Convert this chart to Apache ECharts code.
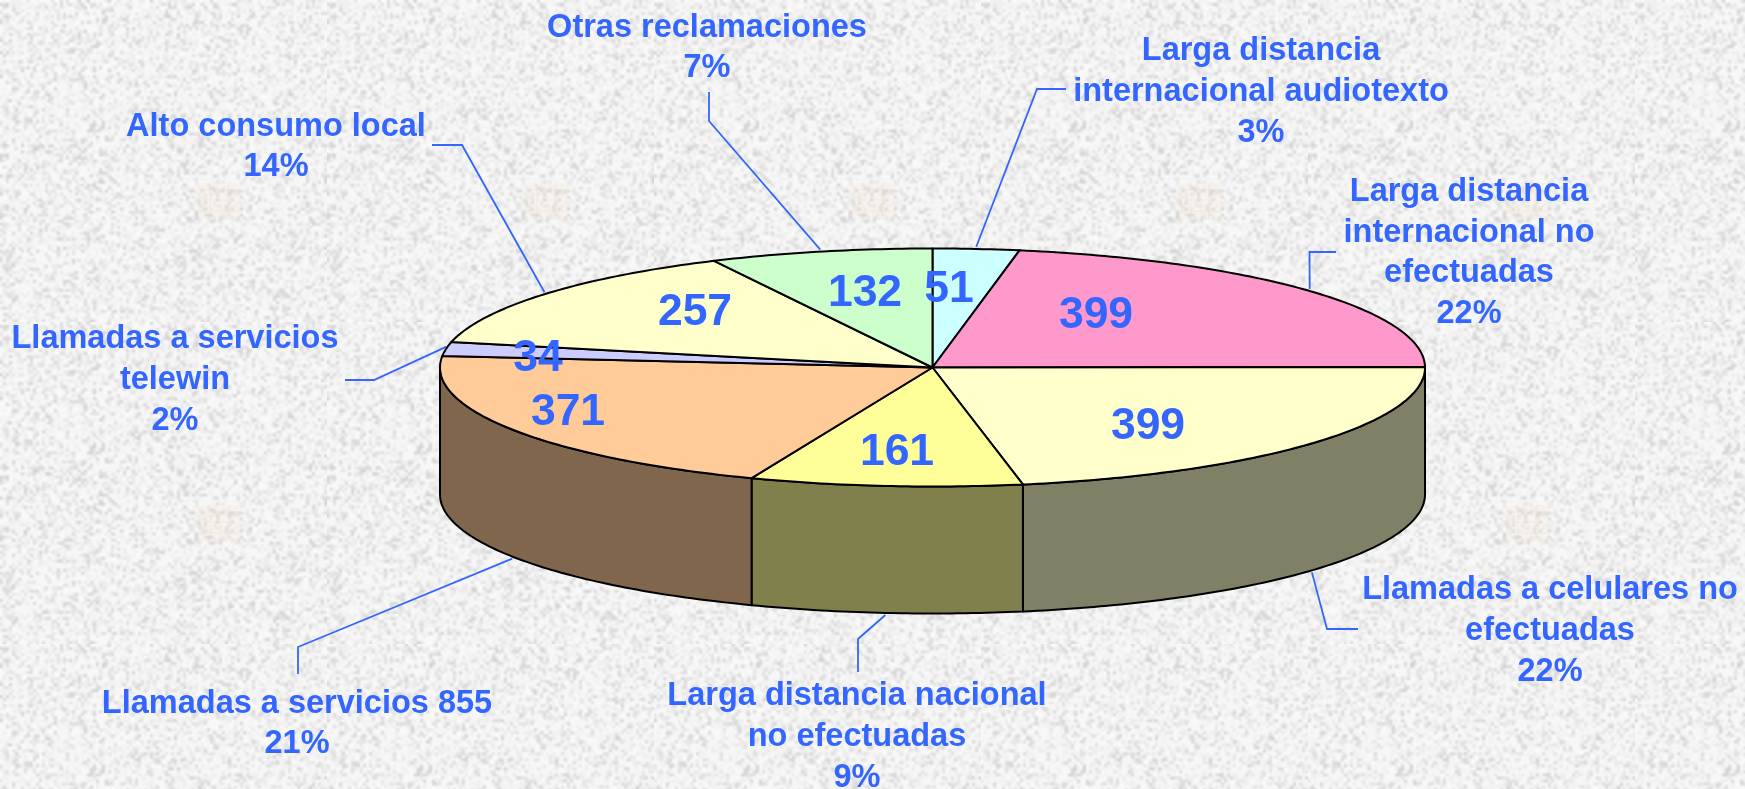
<!DOCTYPE html>
<html><head><meta charset="utf-8">
<style>html,body{margin:0;padding:0;background:#eee}#c{width:1745px;height:789px}</style>
<script src="https://cdn.jsdelivr.net/npm/echarts@6/dist/echarts.min.js"></script>
</head><body><div id="c"></div>
<script>
// ---- data ----
const categories = [
  'Larga distancia\ninternacional audiotexto',
  'Larga distancia\ninternacional no\nefectuadas',
  'Llamadas a celulares no\nefectuadas',
  'Larga distancia nacional\nno efectuadas',
  'Llamadas a servicios 855',
  'Llamadas a servicios\ntelewin',
  'Alto consumo local',
  'Otras reclamaciones'
];
const values = [51, 399, 399, 161, 371, 34, 257, 132];
// ---- styles and layout, kept apart from the data ----
const topColors  = ['#CCFFFF','#FF99CC','#FFFFCC','#FFFF99','#FFCC99','#CCCCFF','#FFFFCC','#CCFFCC'];
const sideColors = ['#666680','#804C66','#808066','#80804C','#80664C','#666680','#808066','#668066'];
const textColor = '#3366FF';
const valueLabelPos = [[949,290],[1096,316],[1148,427],[897,453],[568,413],[538,359],[695,313],[865,294]];
const catLabelPos = [[1261,92],[1469,253],[1550,631],[857,737],[297,724],[175,380],[276,147],[707,48]];
const leaderBends = [
  [[1037,89],[1066,89]],
  [[1309.5,252],[1336,252]],
  [[1327,629],[1358,629]],
  [[858,639],[858,672]],
  [[298,647],[298,674]],
  [[374,380],[345,380]],
  [[462,145],[432,145]],
  [[709,121],[709,92]]
];
const pie = {cx: 932.5, cy: 367.5, rx: 492.5, ry: 119, depth: 127};

const total = values.reduce((a, b) => a + b, 0);
const spans = [];
values.reduce((acc, v) => { spans.push([acc, acc + v]); return acc + v; }, 0);
const ang = v => v / total * Math.PI * 2;
const pt = (a, dy) => [pie.cx + pie.rx * Math.sin(a), pie.cy - pie.ry * Math.cos(a) + (dy || 0)];
function arc(a0, a1, dy) {
  const n = Math.max(2, Math.ceil((a1 - a0) / 0.015)), out = [];
  for (let i = 0; i <= n; i++) out.push(pt(a0 + (a1 - a0) * i / n, dy));
  return out;
}
// ---- paper texture (deterministic, not data) ----
function makeTexture() {
  const W = 327, H = 322, K = 3, lw = Math.round(W / K), lh = Math.round(H / K);
  let seed = 20231;
  const rnd = () => (seed = (seed * 1664525 + 1013904223) >>> 0) / 4294967296;
  const low = document.createElement('canvas'); low.width = lw; low.height = lh;
  const lg = low.getContext('2d'), im = lg.createImageData(lw, lh);
  for (let i = 0; i < im.data.length; i += 4) {
    const r = rnd(), c = Math.round(249 - 30 * r * r * r * r - 8 * r);
    im.data[i] = im.data[i + 1] = im.data[i + 2] = c; im.data[i + 3] = 255;
  }
  lg.putImageData(im, 0, 0);
  const cv = document.createElement('canvas'); cv.width = W; cv.height = H;
  const g = cv.getContext('2d');
  g.imageSmoothingEnabled = true; g.imageSmoothingQuality = 'high';
  for (const dx of [-W, 0, W]) for (const dy of [-H, 0, H]) g.drawImage(low, dx, dy, W, H);
  g.fillStyle = 'rgba(245,232,215,0.22)'; g.fillRect(197, 183, 44, 37);
  g.strokeStyle = 'rgba(235,215,195,0.22)'; g.lineWidth = 1.5;
  [[200,190,238,190],[203,200,235,200],[200,211,238,211],[210,184,210,219],[228,184,228,219]].forEach(l => {
    g.beginPath(); g.moveTo(l[0], l[1]); g.lineTo(l[2], l[3]); g.stroke();
  });
  return cv;
}
const font = {fontFamily: '"Liberation Sans", Arial, sans-serif', fontWeight: 'bold'};
const chart = echarts.init(document.getElementById('c'), null, {renderer: 'canvas'});
const data = values.map((v, i) => ({name: categories[i].replace(/\n/g, ' '), value: [v, i]}));

chart.setOption({
  animation: false,
  backgroundColor: {image: makeTexture(), repeat: 'repeat'},
  series: [
    { // wall of the disc
      type: 'custom', coordinateSystem: 'none', z: 1, silent: true, data,
      renderItem(p, api) {
        const i = api.value(1), a0 = Math.max(ang(spans[i][0]), Math.PI / 2), a1 = Math.min(ang(spans[i][1]), Math.PI * 1.5);
        if (a1 <= a0) return {type: 'group', children: []};
        const pts = arc(a0, a1, 0).concat(arc(a0, a1, pie.depth).reverse());
        return {type: 'polygon', shape: {points: pts}, style: {fill: sideColors[i], stroke: '#000', lineWidth: 2, lineJoin: 'round'}};
      }
    },
    { // top face
      type: 'custom', coordinateSystem: 'none', z: 2, silent: true, data,
      renderItem(p, api) {
        const i = api.value(1), a0 = ang(spans[i][0]), a1 = ang(spans[i][1]);
        const pts = [[pie.cx, pie.cy]].concat(arc(a0, a1, 0));
        return {type: 'polygon', shape: {points: pts}, style: {fill: topColors[i], stroke: '#000', lineWidth: 2, lineJoin: 'round'}};
      }
    },
    { // leader lines and text
      type: 'custom', coordinateSystem: 'none', z: 3, silent: true, data,
      renderItem(p, api) {
        const i = api.value(1), v = api.value(0);
        const mid = ang((spans[i][0] + spans[i][1]) / 2);
        const onFront = mid > Math.PI / 2 && mid < Math.PI * 1.5;
        const a = pt(mid, onFront ? pie.depth + 2 : -2);
        const pct = Math.round(v / total * 100) + '%';
        return {type: 'group', children: [
          {type: 'polyline', shape: {points: [a].concat(leaderBends[i])}, style: {fill: 'none', stroke: textColor, lineWidth: 1.8}},
          {type: 'text', x: catLabelPos[i][0], y: catLabelPos[i][1], style: Object.assign({
            text: categories[i] + '\n' + pct, fill: textColor, fontSize: 32.5, lineHeight: 40.7,
            align: 'center', verticalAlign: 'middle'}, font)},
          {type: 'text', x: valueLabelPos[i][0], y: valueLabelPos[i][1], style: Object.assign({
            text: String(v), fill: textColor, fontSize: 44.5,
            align: 'center', verticalAlign: 'middle'}, font)}
        ]};
      }
    }
  ]
});
</script></body></html>
